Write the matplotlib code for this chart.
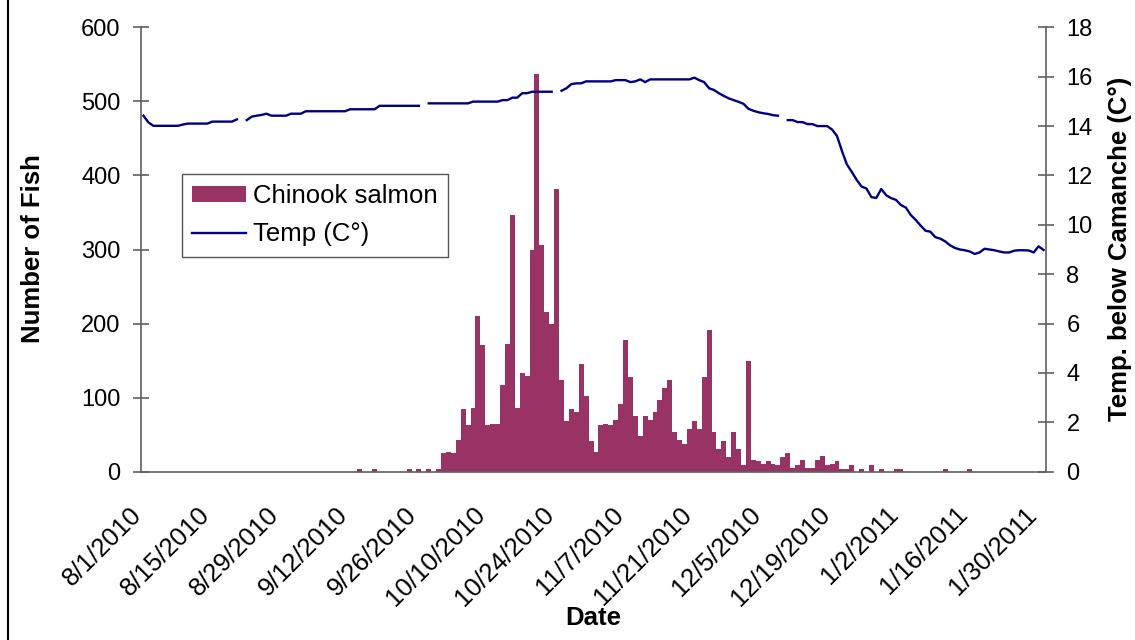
import numpy as np
import matplotlib
matplotlib.use("Agg")
import matplotlib.pyplot as plt
from matplotlib.lines import Line2D
from matplotlib.transforms import ScaledTranslation

plt.rcParams["font.family"] = ["Liberation Sans", "DejaVu Sans"]

# daily fish counts, one value per day starting 8/1/2010
fish_counts = [
    0, 0, 0, 0, 0, 0, 0, 0, 0, 0, 0, 0, 0, 0, 0, 0, 0, 0, 0, 0,
    0, 0, 0, 0, 0, 0, 0, 0, 0, 0, 0, 0, 0, 0, 0, 0, 0, 0, 0, 0,
    0, 0, 0, 0, 3, 0, 0, 3, 0, 0, 0, 0, 0, 0, 3, 0, 3, 0, 3, 0,
    3, 25, 27, 25, 43, 85, 63, 86, 210, 171, 63,
    64, 65, 117, 172, 347, 86, 133, 129, 299, 537,
    306, 215, 199, 382, 124, 69, 85, 81, 145, 102,
    42, 27, 63, 65, 63, 70, 92, 178, 128, 75,
    48, 75, 70, 81, 97, 113, 124, 54, 43, 37,
    58, 68, 58, 128, 191, 54, 31, 41, 20, 54,
    31, 9, 149, 16, 15, 10, 15, 10, 9, 20,
    25, 5, 9, 16, 5, 5, 16, 21, 9, 10,
    15, 3, 3, 9, 0, 3, 0, 9, 0, 3,
    0, 0, 3, 3, 0, 0, 0, 0, 0, 0,
    0, 0, 3, 0, 0, 0, 0, 3, 0, 0,
    0, 0, 0, 0, 0, 0, 0, 0, 0, 0,
    0, 0, 0,
]

# daily water temperature below Camanche (C), nan = no reading
temps = [
    14.42, 14.15, 14.01, 14.01, 14.01, 14.01, 14.01, 14.01, 14.06, 14.10,
    14.10, 14.10, 14.10, 14.10, 14.18, 14.18, 14.18, 14.18, 14.18, 14.27,
    np.nan, 14.24, 14.38, 14.42, 14.45, 14.50, 14.42, 14.42, 14.42, 14.42,
    14.50, 14.50, 14.50, 14.60, 14.60, 14.60, 14.60, 14.60, 14.60, 14.60,
    14.60, 14.60, 14.68, 14.68, 14.68, 14.68, 14.68, 14.68, 14.82, 14.82,
    14.82, 14.82, 14.82, 14.82, 14.82, 14.82, 14.82, np.nan, 14.92, 14.92,
    14.92, 14.92, 14.92, 14.92, 14.92, 14.92, 14.92, 14.99, 14.99, 14.99,
    14.99, 14.99, 14.99, 15.05, 15.05, 15.15, 15.15, 15.33, 15.33, 15.39,
    15.39, 15.39, 15.39, 15.39, np.nan, 15.43, 15.53, 15.70, 15.73, 15.73,
    15.81, 15.81, 15.81, 15.81, 15.81, 15.81, 15.86, 15.86, 15.86, 15.78,
    15.81, 15.89, 15.78, 15.89, 15.89, 15.89, 15.89, 15.89, 15.89, 15.89,
    15.89, 15.89, 15.96, 15.86, 15.78, 15.53, 15.46, 15.33, 15.22, 15.12,
    15.05, 14.98, 14.90, 14.70, 14.62, 14.56, 14.52, 14.49, 14.44, 14.42,
    np.nan, 14.24, 14.24, 14.16, 14.16, 14.08, 14.08, 14.00, 14.00, 14.00,
    13.86, 13.60, 13.00, 12.45, 12.15, 11.82, 11.55, 11.47, 11.12, 11.09,
    11.45, 11.20, 11.08, 11.01, 10.80, 10.70, 10.40, 10.20, 9.97, 9.76,
    9.72, 9.50, 9.44, 9.33, 9.17, 9.06, 9.00, 8.97, 8.92, 8.82,
    8.88, 9.03, 9.00, 8.97, 8.92, 8.88, 8.88, 8.95, 8.97, 8.97,
    8.96, 8.88, 9.13, 8.98,
]

# one tick every 14 days from 8/1/2010
tick_days = [0, 14, 28, 42, 56, 70, 84, 98, 112, 126, 140, 154, 168, 182]
tick_labels = [
    "8/1/2010", "8/15/2010", "8/29/2010", "9/12/2010", "9/26/2010",
    "10/10/2010", "10/24/2010", "11/7/2010", "11/21/2010", "12/5/2010",
    "12/19/2010", "1/2/2011", "1/16/2011", "1/30/2011",
]

days = np.arange(len(fish_counts))
axis_gray = "#606060"

fig = plt.figure(figsize=(11.35, 6.4), dpi=100)
ax = fig.add_axes([141 / 1135, 1 - 471.7 / 640, 905 / 1135, 444.4 / 640])
ax2 = ax.twinx()

bars = ax.bar(days, fish_counts, width=1.0, align="edge", color="#993366", linewidth=0)
(line,) = ax2.plot(days + 0.5, temps, color="#000080", lw=1.7)

ax.set_xlim(0, len(fish_counts))
ax.set_ylim(0, 600)
ax.set_yticks(range(0, 601, 100))
ax2.set_ylim(0, 18)
ax2.set_yticks(range(0, 19, 2))

ax.set_xticks(tick_days)
ax.set_xticklabels(tick_labels, rotation=45, ha="right", va="top", rotation_mode="anchor")
ax.tick_params(axis="x", length=0, pad=22, labelsize=18.5)
for lbl in ax.get_xticklabels():
    lbl.set_transform(lbl.get_transform() + ScaledTranslation(-0.12, 0, fig.dpi_scale_trans))

for a in (ax, ax2):
    a.tick_params(axis="y", direction="inout", length=11.5, width=1.2, color=axis_gray,
                  pad=9, labelsize=17)
    a.spines["top"].set_visible(False)
    for s in ("left", "right", "bottom"):
        a.spines[s].set_color(axis_gray)
        a.spines[s].set_linewidth(1.2)
ax.spines["right"].set_visible(False)
ax2.spines["left"].set_visible(False)
ax2.spines["bottom"].set_visible(False)

fig.text(33 / 1135, 1 - 249 / 640, "Number of Fish", rotation=90, ha="center", va="center",
         fontsize=18.5, fontweight="bold")
fig.text(1120 / 1135, 1 - 249 / 640, "Temp. below Camanche (C°)", rotation=90, ha="center",
         va="center", fontsize=18.5, fontweight="bold")
fig.text(593 / 1135, 1 - 618 / 640, "Date", ha="center", va="center", fontsize=18.5,
         fontweight="bold")

leg = ax2.legend(
    [bars, line],
    ["Chinook salmon", "Temp (C°)"],
    loc="upper left",
    bbox_to_anchor=(182 / 1135, 1 - 174 / 640),
    bbox_transform=fig.transFigure,
    borderaxespad=0,
    fontsize=18.5,
    frameon=True,
    fancybox=False,
    framealpha=1,
    edgecolor="#555555",
    borderpad=0.4,
    handlelength=2.1,
    handleheight=0.6,
    handletextpad=0.25,
    labelspacing=0.55,
)
leg.get_frame().set_linewidth(1.0)

# left edge of the chart border
fig.add_artist(Line2D([8 / 1135, 8 / 1135], [0, 1], transform=fig.transFigure,
                      color="black", lw=1.5))

plt.savefig("out.png", dpi=100, facecolor="white")
